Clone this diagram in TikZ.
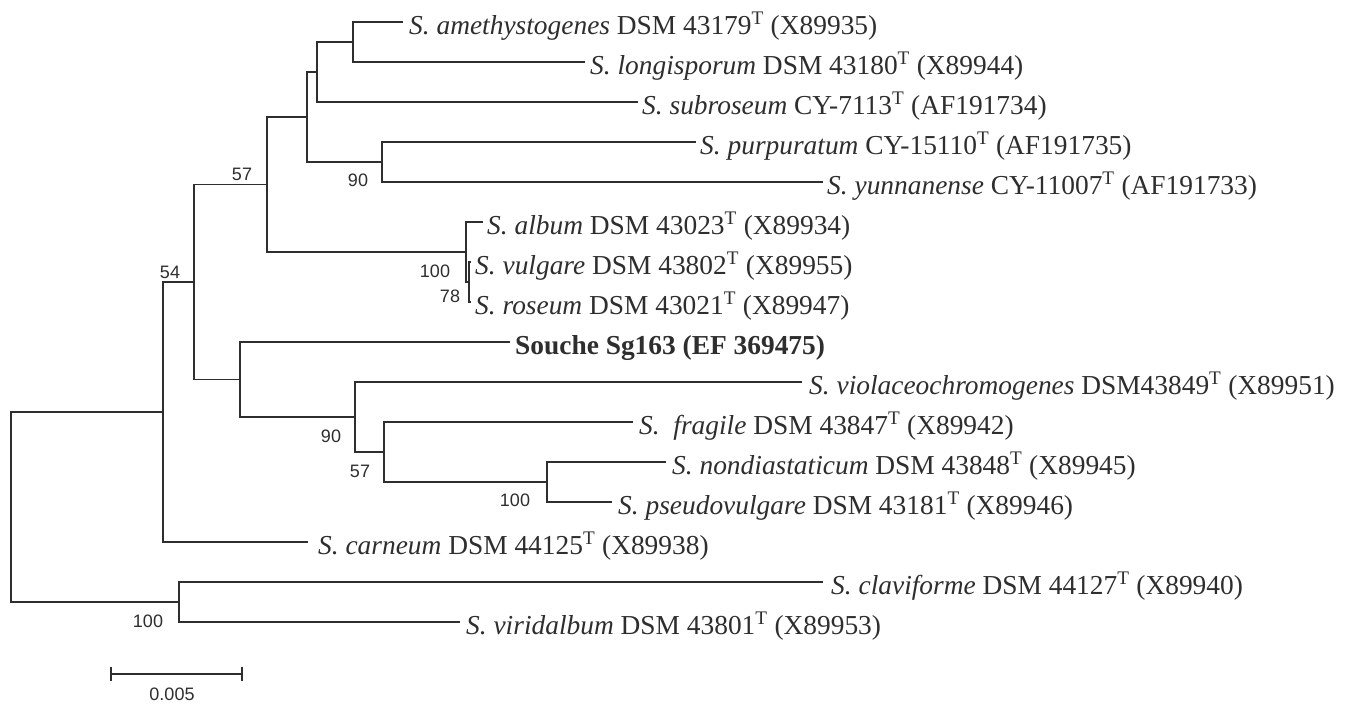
\documentclass[tikz,border=0pt]{standalone}
\usepackage{fontspec}
\setmainfont{Liberation Serif}
\setsansfont{Liberation Sans}
\definecolor{ink}{HTML}{2E2E2E}
\begin{document}
\begin{tikzpicture}[x=1pt,y=-1pt,
  br/.style={draw=ink, line width=1.8pt, line join=miter},
  leaf/.style={anchor=west, inner sep=0pt, text height=24pt, text depth=0pt,
    font=\fontsize{27.4}{30}\selectfont, text=ink},
  bs/.style={font=\sffamily\fontsize{18}{20}\selectfont, inner sep=0pt, text=ink}]
\useasboundingbox (0,0) rectangle (1348,704);
\fill[white] (0,0) rectangle (1348,704);
% internal nodes
\coordinate (R) at (11,507);
\coordinate (N) at (163,412);
\coordinate (O) at (179,602);
\coordinate (H) at (194,282);
\coordinate (E) at (267,184.5);
\coordinate (I) at (240,379.5);
\coordinate (C) at (307,117);
\coordinate (F) at (466,252);
\coordinate (G) at (469,282);
\coordinate (B) at (317,72);
\coordinate (A) at (353,42);
\coordinate (D) at (382,162);
\coordinate (J) at (355,417);
\coordinate (K) at (384,452);
\coordinate (L) at (547,482);
% leaves
\node[leaf] (amet) at (403,22) {\hspace{6pt}\textit{S. amethystogenes} DSM 43179\textsuperscript{T} (X89935)};
\node[leaf] (longi) at (585,62) {\hspace{5pt}\textit{S. longisporum} DSM 43180\textsuperscript{T} (X89944)};
\node[leaf] (subro) at (638,102) {\hspace{4pt}\textit{S. subroseum} CY-7113\textsuperscript{T} (AF191734)};
\node[leaf] (purp) at (696,142) {\hspace{4pt}\textit{S. purpuratum} CY-15110\textsuperscript{T} (AF191735)};
\node[leaf] (yunn) at (823,182) {\hspace{4pt}\textit{S. yunnanense} CY-11007\textsuperscript{T} (AF191733)};
\node[leaf] (alb) at (483,222) {\hspace{4pt}\textit{S. album} DSM 43023\textsuperscript{T} (X89934)};
\node[leaf] (vulg) at (471,262) {\hspace{4pt}\textit{S. vulgare} DSM 43802\textsuperscript{T} (X89955)};
\node[leaf] (rose) at (471,302) {\hspace{4pt}\textit{S. roseum} DSM 43021\textsuperscript{T} (X89947)};
\node[leaf] (souche) at (510,342) {\hspace{5pt}\textbf{Souche Sg163 (EF 369475)}};
\node[leaf] (viol) at (802,382) {\hspace{7pt}\textit{S. violaceochromogenes} DSM43849\textsuperscript{T} (X89951)};
\node[leaf] (frag) at (633,422) {\hspace{6pt}\textit{S.\ \ fragile} DSM 43847\textsuperscript{T} (X89942)};
\node[leaf] (nond) at (666,462) {\hspace{6pt}\textit{S. nondiastaticum} DSM 43848\textsuperscript{T} (X89945)};
\node[leaf] (pseu) at (612,502) {\hspace{6pt}\textit{S. pseudovulgare} DSM 43181\textsuperscript{T} (X89946)};
\node[leaf] (carn) at (308,542) {\hspace{10pt}\textit{S. carneum} DSM 44125\textsuperscript{T} (X89938)};
\node[leaf] (clav) at (823,582) {\hspace{8pt}\textit{S. claviforme} DSM 44127\textsuperscript{T} (X89940)};
\node[leaf] (viri) at (460,622) {\hspace{6pt}\textit{S. viridalbum} DSM 43801\textsuperscript{T} (X89953)};
% branches
\draw[br] (R) |- (N);  \draw[br] (R) |- (O);
\draw[br] (N) |- (H);  \draw[br] (N) |- (carn.west);
\draw[br] (H) |- (E);  \draw[br] (H) |- (I);
\draw[br] (E) |- (C);  \draw[br] (E) |- (F);
\draw[br] (C) |- (B);  \draw[br] (C) |- (D);
\draw[br] (B) |- (A);  \draw[br] (B) |- (subro.west);
\draw[br] (A) |- (amet.west);  \draw[br] (A) |- (longi.west);
\draw[br] (D) |- (purp.west);  \draw[br] (D) |- (yunn.west);
\draw[br] (F) |- (alb.west);   \draw[br] (F) |- (G);
\draw[br] (G) |- (vulg.west);  \draw[br] (G) |- (rose.west);
\draw[br] (I) |- (souche.west); \draw[br] (I) |- (J);
\draw[br] (J) |- (viol.west);  \draw[br] (J) |- (K);
\draw[br] (K) |- (frag.west);  \draw[br] (K) |- (L);
\draw[br] (L) |- (nond.west);  \draw[br] (L) |- (pseu.west);
\draw[br] (O) |- (clav.west);  \draw[br] (O) |- (viri.west);
% bootstrap values
\node[bs] (bE) at (242,174) {57};
\node[bs] (bH) at (170,272) {54};
\node[bs] (bD) at (358,180) {90};
\node[bs] (bF) at (435,271) {100};
\node[bs] (bG) at (450,296) {78};
\node[bs] (bJ) at (331,436) {90};
\node[bs] (bK) at (360,471) {57};
\node[bs] (bL) at (515,500) {100};
\node[bs] (bO) at (148,621) {100};
% scale bar
\coordinate (s1) at (111,674);
\coordinate (s2) at (242,674);
\draw[br, line width=1.5pt] (s1) -- (s2);
\draw[br, line width=1.5pt] ([yshift=-7pt]s1) -- ([yshift=7pt]s1);
\draw[br, line width=1.5pt] ([yshift=-7pt]s2) -- ([yshift=7pt]s2);
\node[bs] (sl) at (172,694) {0.005};
\end{tikzpicture}
\end{document}
